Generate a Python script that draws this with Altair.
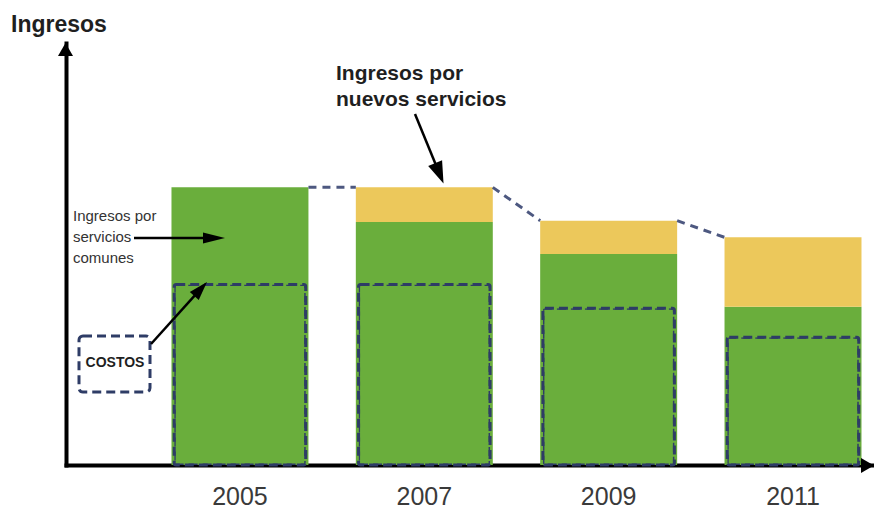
import math
import altair as alt
import pandas as pd

# ---------------- data ----------------
years = ["2005", "2007", "2009", "2011"]
common_services = [100, 87.5, 76, 57]   # Ingresos por servicios comunes
new_services = [0, 12.5, 12, 25]        # Ingresos por nuevos servicios
costs = [65, 65, 56.5, 46]              # Costos

title_text = "Ingresos"
new_label = "Ingresos por\nnuevos servicios"
common_label = "Ingresos por\nservicios\ncomunes"
cost_label = "COSTOS"

# ---------------- style ----------------
GREEN = "#6aae3c"
YELLOW = "#ecc85b"
NAVY = "#2e3c66"
CONNECT = "#4d5880"
SANS = "Liberation Sans, Arial, sans-serif"

W, H = 808, 422
PAD_L, PAD_T = 58, 35
TOTAL_W, TOTAL_H = 866, 500
OX, OY = PAD_L + 8, PAD_T + 8   # page -> plot-area offset


def px(x):
    return x - OX


def py(y):
    return y - OY


df = pd.DataFrame({
    "year": years,
    "common": common_services,
    "new": new_services,
    "cost": costs,
})
df["total"] = df["common"] + df["new"]
totals = list(df["total"])

seg = pd.DataFrame({
    "from": years[:-1],
    "to": years[1:],
    "y_from": totals[:-1],
    "y_to": totals[1:],
})

xscale = alt.Scale(domain=years, paddingInner=0.257, paddingOuter=0.32, align=0.894)
yscale = alt.Scale(domain=[0, 152], nice=False, zero=True)

xaxis = alt.Axis(title=None, labelAngle=0, ticks=False, tickSize=0, grid=False,
                 domainColor="black", domainWidth=4, domainCap="square",
                 labelFont=SANS, labelFontSize=25, labelColor="#3a3a3a",
                 labelPadding=19, labelBaseline="top")
yaxis = alt.Axis(title=None, labels=False, ticks=False, tickSize=0, grid=False,
                 domainColor="black", domainWidth=4, domainCap="square")

X = alt.X("year:N", scale=xscale, axis=xaxis)

green = alt.Chart(df).mark_bar(color=GREEN).encode(
    x=X,
    y=alt.Y("common:Q", scale=yscale, axis=yaxis),
)
yellow = alt.Chart(df).mark_bar(color=YELLOW).encode(
    x=X,
    y=alt.Y("total:Q", scale=yscale, axis=yaxis),
    y2="common:Q",
)
cost_box = alt.Chart(df).mark_bar(
    width=alt.RelativeBandSize(0.96), fill="transparent", fillOpacity=0, stroke=NAVY,
    strokeWidth=3, strokeDash=[9, 5], cornerRadius=2,
).encode(
    x=X,
    y=alt.Y("cost:Q", scale=yscale, axis=yaxis),
)
connectors = alt.Chart(seg).mark_rule(
    color=CONNECT, strokeWidth=3, strokeDash=[8, 6],
).encode(
    x=alt.X("from:N", scale=xscale, axis=xaxis, bandPosition=1),
    x2=alt.X2("to:N", bandPosition=0),
    y=alt.Y("y_from:Q", scale=yscale, axis=yaxis),
    y2="y_to:Q",
)

one = pd.DataFrame({"k": [0]})


def text_layer(label, x, y, size, weight="normal", color="#222", font=SANS,
               align="left", baseline="alphabetic", line_height=None):
    kw = {}
    if line_height is not None:
        kw["lineHeight"] = line_height
    return alt.Chart(pd.DataFrame({"t": [label]})).mark_text(
        font=font, fontSize=size, fontWeight=weight, color=color,
        align=align, baseline=baseline, lineBreak="\n", **kw,
    ).encode(x=alt.value(px(x)), y=alt.value(py(y)), text="t:N")


def arrow(x0, y0, x1, y1, length, width, color="black", lw=2.5):
    dx, dy = x1 - x0, y1 - y0
    d = math.hypot(dx, dy)
    ux, uy = dx / d, dy / d
    ang = math.degrees(math.atan2(dx, -dy)) % 360
    ex, ey = x1 - ux * length * 0.6, y1 - uy * length * 0.6
    r = width / (2 * length)
    shape = f"M0,0L{-r:.3f},1L{r:.3f},1Z"
    line = alt.Chart(one).mark_rule(color=color, strokeWidth=lw).encode(
        x=alt.value(px(x0)), y=alt.value(py(y0)),
        x2=alt.value(px(ex)), y2=alt.value(py(ey)),
    )
    head = alt.Chart(one).mark_point(
        shape=shape, filled=True, color=color, opacity=1, strokeWidth=0,
        size=(2 * length) ** 2, angle=ang,
    ).encode(x=alt.value(px(x1)), y=alt.value(py(y1)))
    return [line, head]


def head_only(x1, y1, angle, length, width, color="black"):
    r = width / (2 * length)
    shape = f"M0,0L{-r:.3f},1L{r:.3f},1Z"
    return alt.Chart(one).mark_point(
        shape=shape, filled=True, color=color, opacity=1, strokeWidth=0,
        size=(2 * length) ** 2, angle=angle,
    ).encode(x=alt.value(px(x1)), y=alt.value(py(y1)))


layers = [green, yellow, cost_box, connectors]

# axis arrowheads
layers.append(head_only(OX - 0.5, OY, 0, 13, 15))
layers.append(head_only(OX + W, OY + H + 0.5, 90, 13, 15))

# COSTOS key box
layers.append(
    alt.Chart(one).mark_rect(
        fill="transparent", fillOpacity=0, stroke=NAVY, strokeWidth=3,
        strokeDash=[9, 5], cornerRadius=4,
    ).encode(x=alt.value(px(79)), x2=alt.value(px(150)),
             y=alt.value(py(336)), y2=alt.value(py(392)))
)

# texts
layers.append(text_layer(title_text, 11, 32, 23, weight="bold", color="#1f1f1f"))
layers.append(text_layer(new_label, 336, 80, 21, weight="bold", color="#1f1f1f",
                         line_height=26))
layers.append(text_layer(common_label, 73, 221, 15, color="#333333",
                         line_height=21))
layers.append(text_layer(cost_label, 115, 363, 14, weight="bold", color="#1f1f1f",
                         align="center", baseline="middle"))

# annotation arrows
layers += arrow(415, 114, 443.5, 183.5, 22, 15)
layers += arrow(134, 238, 225, 238, 22, 11)
layers += arrow(151, 344, 207, 282, 19, 12)

chart = alt.layer(*layers).properties(
    width=W, height=H,
    background="white",
    autosize=alt.AutoSizeParams(type="none"),
    padding={"left": PAD_L, "top": PAD_T,
             "right": TOTAL_W - PAD_L - W, "bottom": TOTAL_H - PAD_T - H},
).configure_view(stroke="transparent", strokeOpacity=0)

chart.save("out.html", embed_options={"renderer": "svg", "actions": False})
